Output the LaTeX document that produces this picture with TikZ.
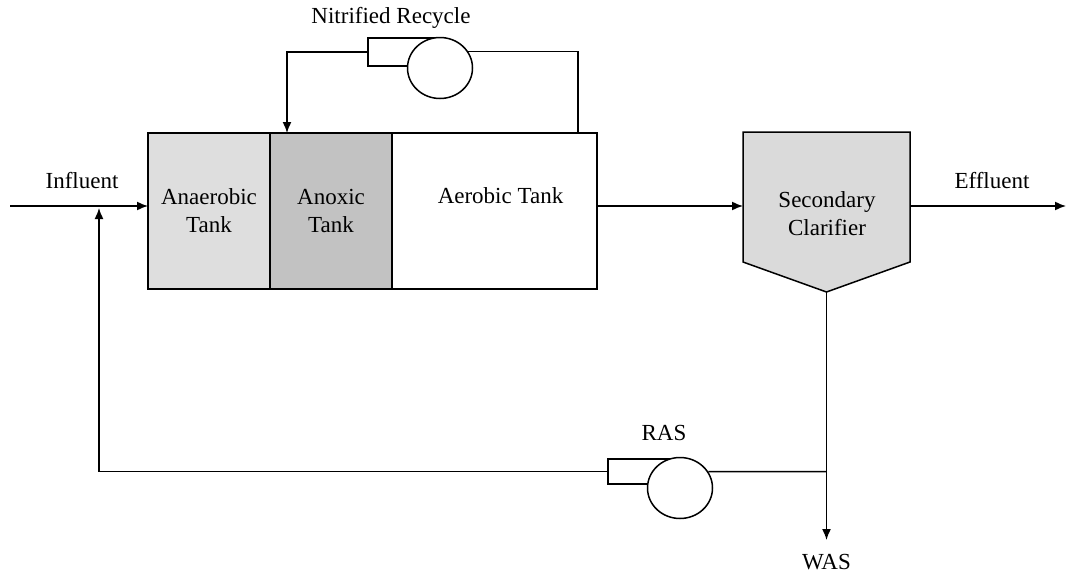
\documentclass[tikz,border=0pt]{standalone}
\usepackage{fontspec}
\setmainfont{Liberation Serif}
\usetikzlibrary{positioning,arrows.meta,shapes.geometric}
\definecolor{anaerofill}{HTML}{DEDEDE}
\definecolor{anoxfill}{HTML}{C2C2C2}
\definecolor{clarfill}{HTML}{DADADA}

\begin{document}
\begin{tikzpicture}[x=1pt, y=-1pt, >={Latex[length=11pt,width=9pt]},
  line width=1.5pt, font=\fontsize{23}{28}\selectfont,
  tank/.style={draw, minimum height=156pt, inner sep=0pt, outer sep=0pt, align=center},
  lbl/.style={inner sep=2pt},
  pumpbox/.style={draw, minimum width=72pt, inner sep=0pt},
  pump/.style={draw, ellipse, fill=white, minimum width=65pt, minimum height=61pt, inner sep=0pt}]
\useasboundingbox (0,0) rectangle (1066,573);
% reactor
\node[tank, fill=anaerofill, minimum width=122pt] (anaer) at (209,211) {Anaerobic\\Tank};
\node[tank, fill=anoxfill, minimum width=122pt, right=0pt of anaer] (anox) {Anoxic\\Tank};
\node[tank, minimum width=205pt, right=0pt of anox,
  label={[name=aerolbl, xshift=6pt, yshift=15pt]center:Aerobic Tank}] (aero) {};
% clarifier
\node[minimum width=167pt, minimum height=130pt, inner sep=0pt, outer sep=0pt] (clar) at (826.5,197) {};
\coordinate (clartip) at (826.5,292);
\filldraw[fill=clarfill] (clar.north west) -- (clar.north east) -- (clar.south east)
  -- (clartip) -- (clar.south west) -- cycle;
\node[align=center] (clarlbl) at (827,214) {Secondary\\Clarifier};
% pumps
\node[pumpbox, minimum height=28pt] (nrbox) at (404,52) {};
\node[pump] (nrpump) at (440,68) {};
\node[pumpbox, minimum height=25pt] (rasbox) at (644,471.5) {};
\node[pump] (raspump) at (680,488) {};
% free ends
\coordinate (inf) at (10,206);
\coordinate (nrtake) at (578,133);
\coordinate (nrin) at (287,133);
\coordinate (retin) at (99,208);
\coordinate (eff) at (1066,206);
\coordinate (rasjn) at (826.5,471.5);
\coordinate (wasend) at (826.5,540);
% flows
\draw[->] (inf) -- (inf -| anaer.west);
\draw (nrtake) |- (nrpump.30);
\draw[->] (nrbox.west) -| (nrin);
\draw[->] (aero.east |- inf) -- (clar.west |- inf);
\draw[->] (clar.east |- inf) -- (eff);
\draw[->] (clartip) -- (wasend);
\draw (raspump.30) -- (rasjn);
\draw[->] (rasbox.west) -| (retin);
% labels
\node[lbl] (inflbl) at (82,181) {Influent};
\node[lbl] (efflbl) at (992,181) {Effluent};
\node[lbl] (nrlbl) at (391,18) {Nitrified Recycle};
\node[lbl] (raslbl) at (664,433) {RAS};
\node[lbl, below=12pt of wasend] (waslbl) {WAS};
\end{tikzpicture}
\end{document}
